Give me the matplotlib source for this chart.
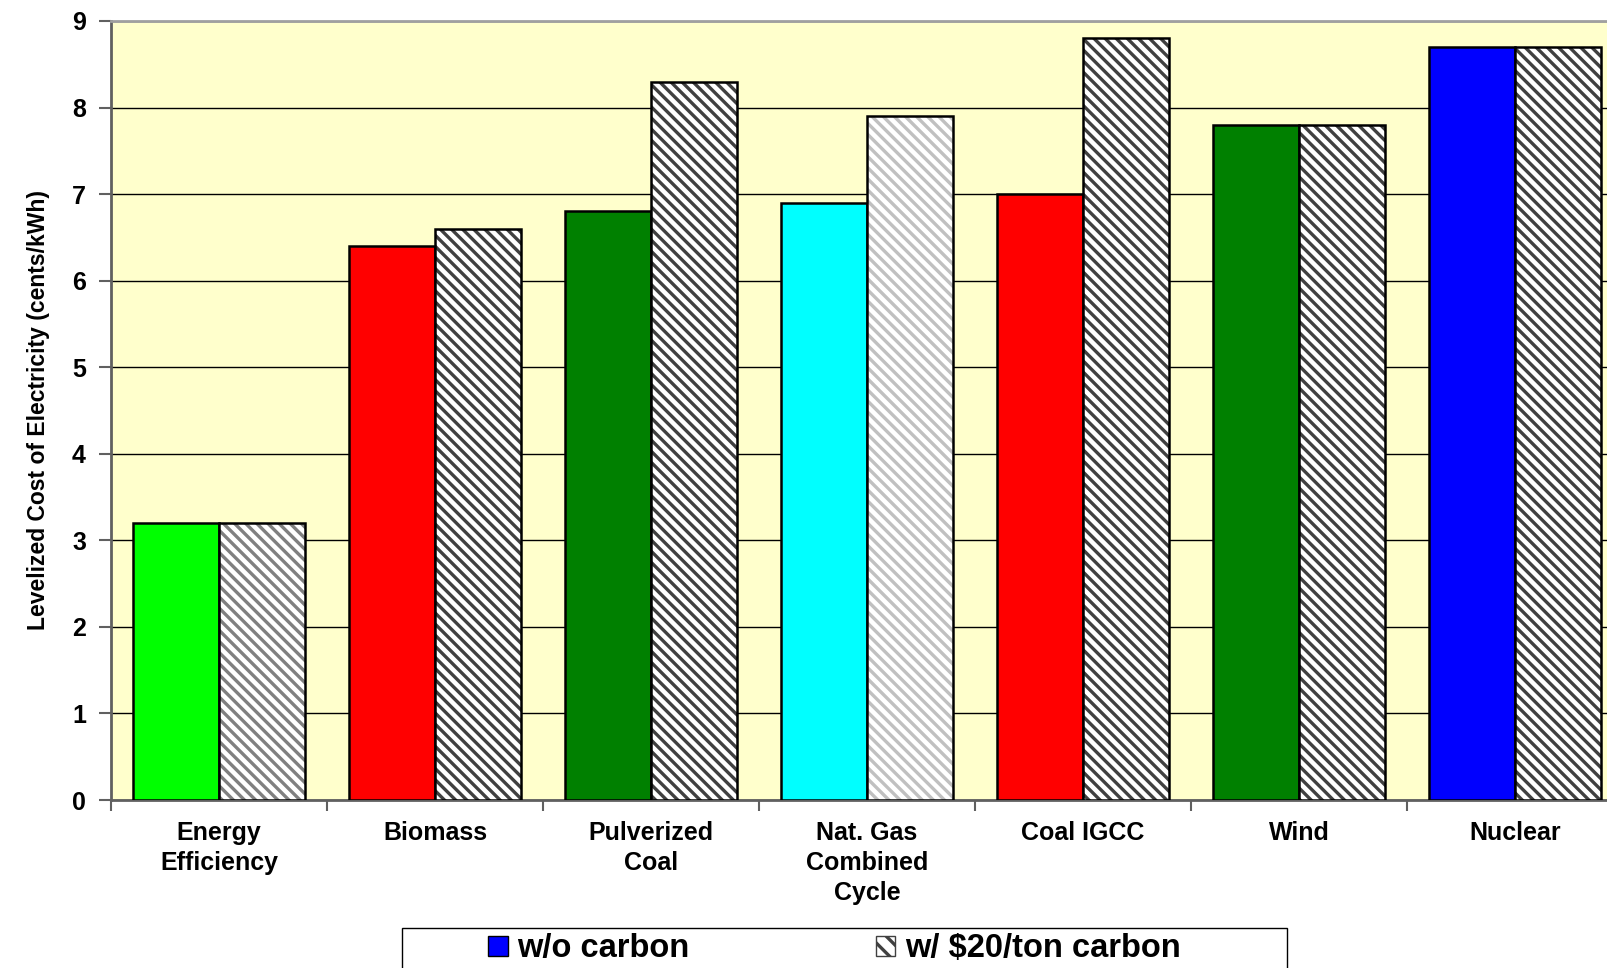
import numpy as np
import matplotlib
matplotlib.use('Agg')
import matplotlib.pyplot as plt
from matplotlib.patches import Patch, Rectangle

# data
categories = ['Energy\nEfficiency', 'Biomass', 'Pulverized\nCoal', 'Nat. Gas\nCombined\nCycle',
              'Coal IGCC', 'Wind', 'Nuclear']
no_carbon = [3.2, 6.4, 6.8, 6.9, 7.0, 7.8, 8.7]
with_carbon = [3.2, 6.6, 8.3, 7.9, 8.8, 7.8, 8.7]
bar_colors = ['#00ff00', '#ff0000', '#008000', '#00ffff', '#ff0000', '#008000', '#0000ff']
hatch_colors = ['#808080', '#404040', '#404040', '#c0c0c0', '#404040', '#404040', '#404040']
yticks = list(range(10))

plt.rcParams['font.family'] = ['Liberation Sans', 'DejaVu Sans']
plt.rcParams['font.weight'] = 'bold'
plt.rcParams['hatch.linewidth'] = 2.4

fig = plt.figure(figsize=(16.08, 9.68), dpi=100)
ax = fig.add_axes([111 / 1608, 168 / 968, 1 - 111 / 1608, 779 / 968])
ax.set_facecolor('#ffffcc')

x = np.arange(len(categories))
w = 0.4

ax.bar(x - w / 2, no_carbon, w, color=bar_colors, edgecolor='black', linewidth=1.8, zorder=3)
# hatch colour follows edgecolor, so draw the hatch first and the outline on top
ax.bar(x + w / 2, with_carbon, w, color='white', edgecolor=hatch_colors, hatch='\\\\\\',
       linewidth=0, zorder=3)
ax.bar(x + w / 2, with_carbon, w, fill=False, edgecolor='black', linewidth=1.8, zorder=4)

ax.set_ylim(0, 9)
ax.set_xlim(-0.5, -0.5 + 1497 / 216)
ax.set_yticks(yticks)
ax.set_yticklabels([str(t) for t in yticks], fontsize=18, fontweight='bold')
ax.yaxis.grid(True, color='black', linewidth=1)
ax.set_axisbelow(True)

ax.set_xticks(x)
ax.set_xticklabels(categories, fontsize=18, fontweight='bold', linespacing=1.32)
ax.set_xticks(np.arange(len(categories)) - 0.5, minor=True)
ax.tick_params(axis='x', which='major', length=0, pad=15)
ax.tick_params(axis='x', which='minor', length=8, width=1.5, color='#606060')
ax.tick_params(axis='y', length=9, width=1.5, color='#606060', pad=9)

ax.set_ylabel('Levelized Cost of Electricity (cents/kWh)', fontsize=16.5, fontweight='bold',
              family=['Liberation Sans Narrow', 'Liberation Sans'], labelpad=16)

for side in ['left', 'bottom']:
    ax.spines[side].set_color('#606060')
    ax.spines[side].set_linewidth(2)
ax.spines['top'].set_color('#a0a0a0')
ax.spines['top'].set_linewidth(2)
ax.spines['right'].set_visible(False)

# legend box runs off the bottom edge, as in the original
fig.patches.append(Rectangle((402 / 1608, -0.01), 885 / 1608, 40 / 968 + 0.01,
                             transform=fig.transFigure, fill=False, edgecolor='black',
                             linewidth=1, zorder=5))
handles = [Patch(facecolor='#0000ff', edgecolor='black', linewidth=1),
           Patch(facecolor='white', edgecolor='#404040', hatch='\\\\', linewidth=1)]
fig.legend(handles, ['w/o carbon', 'w/ $20/ton carbon'], loc='center left',
           bbox_to_anchor=(488 / 1608, 1 - 949 / 968), ncol=2, frameon=False,
           prop={'weight': 'bold', 'size': 23.5},
           handlelength=0.6, handleheight=0.6, handletextpad=0.3, columnspacing=5.7,
           borderpad=0, borderaxespad=0)

fig.savefig('out.png', dpi=100)
